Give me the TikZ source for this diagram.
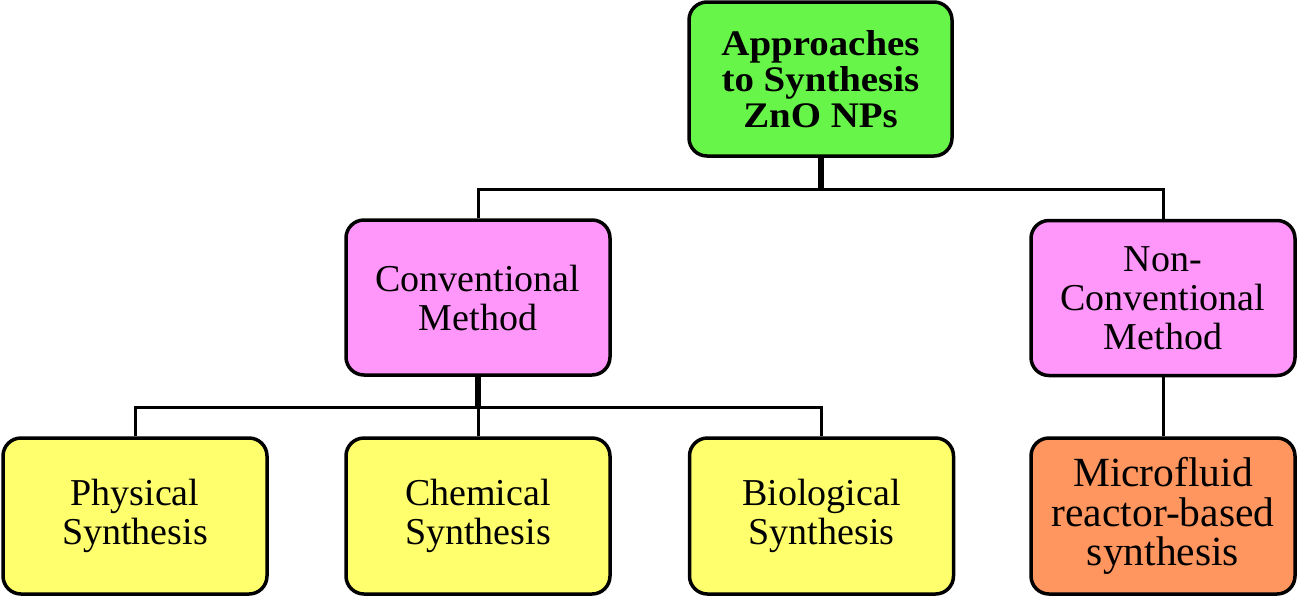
\documentclass[tikz,border=0pt]{standalone}
\usepackage{fontspec}
\setmainfont{Liberation Serif}
\newfontfamily\headfont[FakeStretch=1.08]{Liberation Serif}
\definecolor{topgreen}{RGB}{102,245,72}
\definecolor{methpink}{RGB}{255,150,250}
\definecolor{subyellow}{RGB}{255,255,110}
\definecolor{microorange}{RGB}{255,150,95}
\tikzset{
  box/.style={draw=black, line width=3.5pt, rounded corners=18pt, align=center,
    inner sep=0pt, font=\fontsize{38}{39}\selectfont},
  topbox/.style={box, fill=topgreen, minimum width=263pt, minimum height=154pt,
    font=\headfont\bfseries\fontsize{36}{36}\selectfont},
  methbox/.style={box, fill=methpink, minimum width=264pt, minimum height=155pt},
  subbox/.style={box, fill=subyellow, minimum width=264pt, minimum height=156pt},
  microbox/.style={box, fill=microorange, minimum width=264pt, minimum height=156pt,
    font=\fontsize{41.5}{39.5}\selectfont},
  link/.style={draw=black, line width=3pt},
  stub/.style={draw=black, line width=6pt}
}
\begin{document}
\begin{tikzpicture}[x=1pt,y=-1pt]
\useasboundingbox (0,0) rectangle (1298,598);
\node[topbox] (top) at (820.5,79) {Approaches\\to Synthesis\\ZnO NPs};
\node[methbox] (conv) at (478,297.5) {Conventional\\Method};
\node[methbox] (nonconv) at (1163,298) {Non-\\Conventional\\Method};
\node[subbox] (phys) at (135,516) {Physical\\Synthesis};
\node[subbox] (chem) at (478,516) {Chemical\\Synthesis};
\node[subbox] (bio) at (821.5,516) {Biological\\Synthesis};
\node[microbox] (micro) at (1163,516) {Microfluid\\reactor-based\\synthesis};
\coordinate (j1) at (820.5,189);
\coordinate (j2) at (478,407);
\draw[link] (conv.north) |- (j1) -| (nonconv.north);
\draw[stub] (top.south) -- (j1);
\draw[link] (phys.north) |- (j2) -| (bio.north);
\draw[link] (chem.north) -- (j2);
\draw[stub] (conv.south) -- (j2);
\draw[link] (nonconv.south) -- (micro.north);
\end{tikzpicture}
\end{document}
